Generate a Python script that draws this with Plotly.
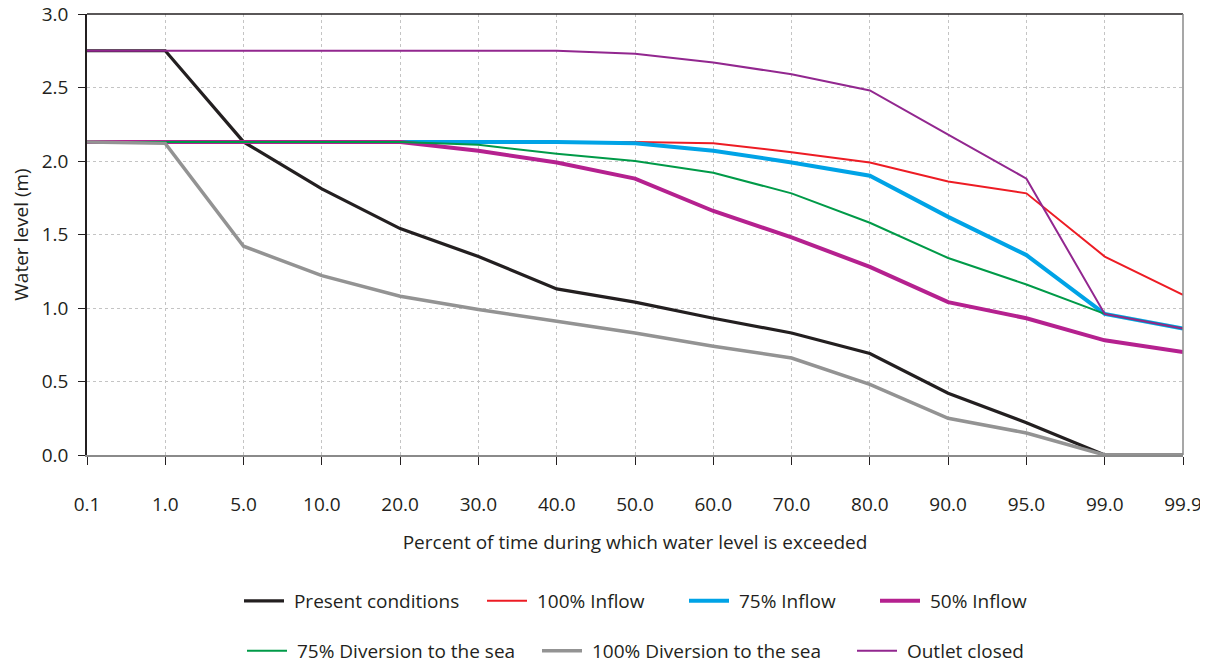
import plotly.graph_objects as go

categories = ["0.1", "1.0", "5.0", "10.0", "20.0", "30.0", "40.0", "50.0",
              "60.0", "70.0", "80.0", "90.0", "95.0", "99.0", "99.9"]

present = [2.75, 2.75, 2.13, 1.81, 1.54, 1.35, 1.13, 1.04, 0.93, 0.83, 0.69, 0.42, 0.22, 0.0, 0.0]
inflow100 = [2.13, 2.13, 2.13, 2.13, 2.13, 2.13, 2.13, 2.13, 2.12, 2.06, 1.99, 1.86, 1.78, 1.35, 1.09]
inflow75 = [2.13, 2.13, 2.13, 2.13, 2.13, 2.13, 2.13, 2.12, 2.07, 1.99, 1.90, 1.62, 1.36, 0.96, 0.86]
inflow50 = [2.13, 2.13, 2.13, 2.13, 2.13, 2.07, 1.99, 1.88, 1.66, 1.48, 1.28, 1.04, 0.93, 0.78, 0.70]
div75 = [2.13, 2.13, 2.13, 2.13, 2.13, 2.11, 2.05, 2.00, 1.92, 1.78, 1.58, 1.34, 1.16, 0.96, 0.86]
div100 = [2.13, 2.12, 1.42, 1.22, 1.08, 0.99, 0.91, 0.83, 0.74, 0.66, 0.48, 0.25, 0.15, 0.0, 0.0]
outlet = [2.75, 2.75, 2.75, 2.75, 2.75, 2.75, 2.75, 2.73, 2.67, 2.59, 2.48, 2.18, 1.88, 0.96, 0.86]

# name, values, colour, width, legend row, legend left position (page px)
series = [
    ("Present conditions", present, "#231f20", 3.2, 0, 245),
    ("100% Inflow", inflow100, "#ed1c24", 2, 0, 488),
    ("75% Inflow", inflow75, "#00a3e6", 4, 0, 690),
    ("50% Inflow", inflow50, "#b5218f", 4, 0, 881),
    ("75% Diversion to the sea", div75, "#009a48", 2, 1, 248),
    ("100% Diversion to the sea", div100, "#939393", 3.5, 1, 543),
    ("Outlet closed", outlet, "#92278f", 2, 1, 858),
]

font = "Open Sans, Noto Sans, sans-serif"
fs = 19
NB = "\u00a0"
W, H = 1200, 656          # page has 8px body margin
ML, MR, MT, MB = 79, 25, 6, 209
PW = W - ML - MR
PH = H - MT - MB
row_y = [601, 651]        # page px

fig = go.Figure()
legends = {}
for i, (name, vals, color, width, row, lx) in enumerate(series):
    key = "legend" if i == 0 else f"legend{i + 1}"
    fig.add_trace(go.Scatter(x=categories, y=vals, mode="lines", name=NB + name,
                             line=dict(color=color, width=width), legend=key,
                             showlegend=True))
    legends[key] = dict(
        orientation="h", xanchor="left", yanchor="middle",
        x=((lx - 8) - ML - 6) / PW,
        y=-((row_y[row] - 8) - (MT + PH)) / PH,
        font=dict(size=fs), itemwidth=40, bgcolor="rgba(0,0,0,0)",
    )

fig.update_layout(
    width=W, height=H, showlegend=True,
    margin=dict(l=ML, r=MR, t=MT, b=MB, autoexpand=False),
    paper_bgcolor="white", plot_bgcolor="white",
    font=dict(family=font, size=fs, color="#231f20"),
    shapes=[
        dict(type="line", xref="paper", yref="paper", x0=0, x1=1, y0=1, y1=1,
             line=dict(color="#231f20", width=1.5)),
        dict(type="line", xref="paper", yref="paper", x0=1, x1=1, y0=0, y1=1,
             line=dict(color="#8a8a8a", width=1.5)),
    ],
    **legends,
)
fig.update_xaxes(
    type="category", range=[0, 14], showgrid=True, gridcolor="#c4c4c4", griddash="dot",
    gridwidth=1, showline=True, linecolor="#8a8a8a", linewidth=2, automargin=False,
    ticks="outside", ticklen=8, tickcolor="#231f20", tickwidth=1,
    ticklabelstandoff=23, ticklabeloverflow="allow", zeroline=False, tickfont=dict(size=fs),
    title=dict(text="Percent of time during which water level is exceeded", standoff=20,
               font=dict(size=fs)),
)
fig.update_yaxes(
    range=[0, 3.0], dtick=0.5, tickformat=".1f", showgrid=True, gridcolor="#c4c4c4",
    griddash="dot", gridwidth=1, showline=True, linecolor="#231f20", linewidth=1.5,
    ticks="outside", ticklen=7, tickcolor="#231f20", tickwidth=1, automargin=False,
    ticklabelstandoff=6, ticklabeloverflow="allow", zeroline=False, tickfont=dict(size=fs),
    title=dict(text="Water level (m)", standoff=18, font=dict(size=fs)),
)
fig.write_html("out.html")
